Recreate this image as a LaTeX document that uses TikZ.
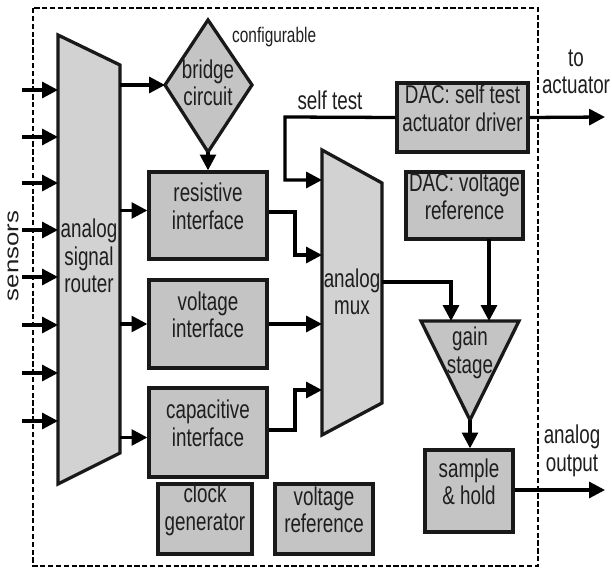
\documentclass[tikz,border=0pt]{standalone}
\usepackage{fontspec}
\setmainfont{Liberation Sans}[FakeStretch=0.73]
\newfontfamily\sensfont{Liberation Sans}
\usetikzlibrary{arrows.meta,fit,calc}
\definecolor{boxgray}{HTML}{C4C4C4}
\definecolor{lightgray2}{HTML}{D2D2D2}
\definecolor{txt}{HTML}{1E1E1E}
\begin{document}
\begin{tikzpicture}[x=0.03cm,y=-0.03cm,
  every node/.style={text=txt},
  blk/.style={draw=black!90, line width=2.8pt, fill=boxgray, inner sep=0pt, align=center,
    font=\fontsize{22}{23.5}\selectfont},
  shp/.style={draw=black!90, line width=2.8pt, line join=miter},
  lbl/.style={align=center, font=\fontsize{22}{23.5}\selectfont, inner sep=0pt},
  arr/.style={line width=2.8pt, -{Triangle[length=13.5pt,width=13.5pt]}},
  ln/.style={line width=2.8pt}]
\useasboundingbox (0,0) rectangle (612,571);

% frame
\draw[line width=2.4pt, dash pattern=on 4.5pt off 2.2pt] (33,8) rectangle (538,566);

% analog signal router
\coordinate (rtrTL) at (58,35);
\coordinate (rtrTR) at (120,65);
\coordinate (rtrBR) at (120,453);
\coordinate (rtrBL) at (58,484);
\draw[shp, fill=lightgray2] (rtrTL) -- (rtrTR) -- (rtrBR) -- (rtrBL) -- cycle;
\node[lbl] (rtr) at (89,256) {analog\\signal\\router};

% sensors
\foreach \i/\yy in {1/90,2/137,3/183,4/230,5/277,6/325,7/373,8/421}{
  \coordinate (s\i) at (22,\yy);
  \draw[arr] (s\i) -- (s\i -| rtrTL);
}
\node[rotate=90, font=\sensfont\fontsize{22}{24}\selectfont, inner sep=0pt] (sens) at (13,256) {\scalebox{1}[0.78]{sensors}};

% bridge circuit
\coordinate (brT) at (208,20);
\coordinate (brR) at (252,85);
\coordinate (brB) at (208,152);
\coordinate (brL) at (165,85);
\draw[shp, fill=boxgray] (brT) -- (brR) -- (brB) -- (brL) -- cycle;
\node[lbl] (br) at (208,83) {bridge\\circuit};
\node[font=\fontsize{18}{20}\selectfont, inner sep=0pt, anchor=west] (cfg) at (232,37) {configurable};
\draw[arr] (brL -| rtrTR) -- (brL);

% interfaces
\node[blk, fit={(149,172) (267,259)}] (res) {resistive\\interface};
\node[blk, fit={(149,280) (267,368)}] (vol) {voltage\\interface};
\node[blk, fit={(149,388) (267,477)}] (cap) {capacitive\\interface};
\draw[arr] (brB) -- (res.north);
\draw[arr] ($(rtrTR |- res.west)+(0,-5)$) -- ($(res.west)+(0,-5)$);
\draw[arr] (rtrTR |- vol.west) -- (vol.west);
\draw[arr] ($(rtrTR |- cap.west)+(0,5)$) -- ($(cap.west)+(0,5)$);

% bottom boxes
\node[blk, fit={(158,484) (252,554)}] (clk) {clock\\generator};
\node[blk, fit={(275,484) (373,554)}] (vref) {voltage\\reference};

% analog mux
\coordinate (muxTL) at (322,150);
\coordinate (muxTR) at (382,183);
\coordinate (muxBR) at (382,403);
\coordinate (muxBL) at (322,435);
\draw[shp, fill=lightgray2] (muxTL) -- (muxTR) -- (muxBR) -- (muxBL) -- cycle;
\node[lbl] (mux) at (352,292) {analog\\mux};

% DAC boxes
\node[blk, fit={(397,83) (528,152)}] (dst) {DAC: self test\\actuator driver};
\node[blk, fit={(406,172) (523,239)}] (dvr) {DAC: voltage\\reference};

% self test path
\coordinate (st1) at (285,117);
\coordinate (st2) at (285,180);
\draw[arr] (dst.west) -- (st1) -- (st2) -- (st2 -| muxTL);
\node[lbl] (stl) at (330,100) {self test};

% interface to mux
\coordinate (r1) at (295,212);
\coordinate (r2) at (295,255);
\draw[arr] (res.east |- r1) -- (r1) -- (r2) -- (r2 -| muxTL);
\draw[arr] (vol.east) -- (vol.east -| muxTL);
\coordinate (c1) at (295,430);
\coordinate (c2) at (295,390);
\draw[arr] (cap.east |- c1) -- (c1) -- (c2) -- (c2 -| muxTL);

% gain stage
\coordinate (gTL) at (421,321);
\coordinate (gTR) at (519,321);
\coordinate (gB) at (470,420);
\draw[shp, fill=boxgray] (gTL) -- (gTR) -- (gB) -- cycle;
\node[lbl] (gain) at (470,353) {gain\\stage};

\coordinate (m1) at (451,282);
\draw[arr] (m1 -| muxTR) -- (m1) -- (m1 |- gTL);
\coordinate (d1) at (489,239);
\draw[arr] (d1) -- (d1 |- gTL);

% sample & hold
\node[blk, fit={(425,450) (513,532)}] (sh) {sample\\\& hold};
\draw[arr] (gB) -- (sh.north -| gB);

% outputs
\coordinate (act) at (605,117);
\draw[arr] (dst.east) -- (act);
\node[lbl] (actl) at (576,72) {to\\actuator};
\coordinate (out) at (605,490);
\draw[arr] (sh.east |- out) -- (out);
\node[lbl] (outl) at (572,451) {analog\\output};
\end{tikzpicture}
\end{document}
